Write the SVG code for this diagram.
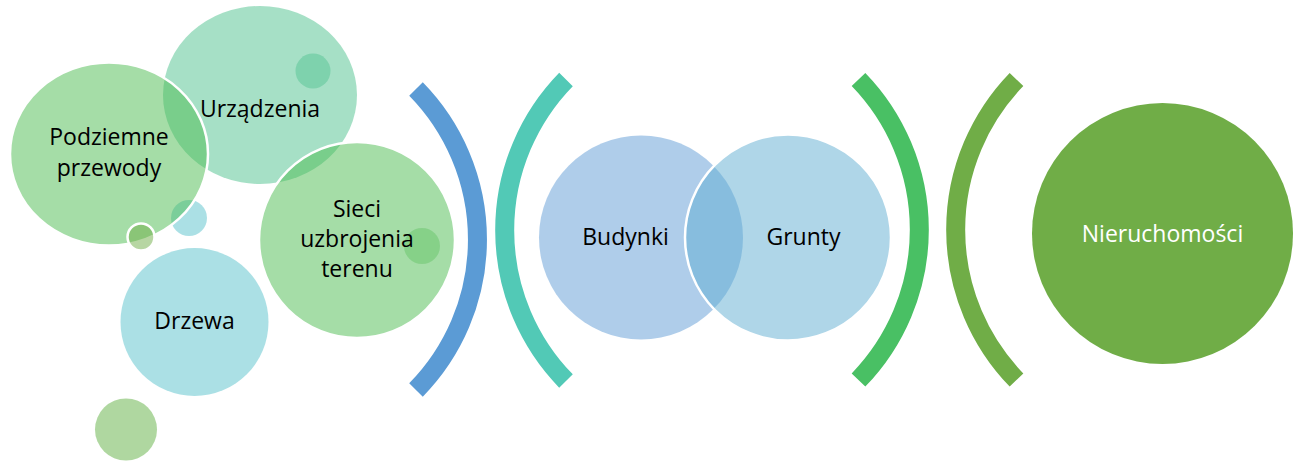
<svg xmlns="http://www.w3.org/2000/svg" width="1300" height="461" viewBox="0 0 1300 461">
  <style>
    .lbl { font-family: "Open Sans", "Liberation Sans", sans-serif; font-size: 23px; fill: #000; text-anchor: middle; }
    .lbl-w { fill: #fff; }
    .bubble { stroke: #fff; stroke-width: 2.5; }
    .green { fill: #4CBB50; fill-opacity: 0.5; }
    .mint { fill: #4DC18D; fill-opacity: 0.5; }
    .cyan { fill: #57C1CB; fill-opacity: 0.5; }
    .olive { fill: #70AD47; fill-opacity: 0.5; }
    .bracket { fill: none; stroke-width: 19; stroke-linecap: butt; }
  </style>

  <rect width="1300" height="461" fill="#fff"/>

  <!-- Bubble cluster on the left -->
  <g id="node-urzadzenia">
    <ellipse cx="260" cy="95" rx="97" ry="89" class="mint"/>
    <circle cx="313" cy="71" r="17.5" fill="#4DC18D" fill-opacity="0.45"/>
    <text x="260" y="117" class="lbl">Urządzenia</text>
  </g>

  <g id="node-sieci">
    <circle cx="357" cy="240" r="98" class="green bubble"/>
    <circle cx="422" cy="246" r="18" fill="#4CBB50" fill-opacity="0.35"/>
    <text x="357" y="217" class="lbl">Sieci</text>
    <text x="357" y="247" class="lbl">uzbrojenia</text>
    <text x="357" y="277" class="lbl">terenu</text>
  </g>

  <g id="dot-cyan">
    <circle cx="189" cy="218" r="18" class="cyan"/>
  </g>

  <g id="node-podziemne">
    <ellipse cx="109" cy="154" rx="99" ry="91.5" class="green bubble"/>
    <text x="109" y="144.5" class="lbl">Podziemne</text>
    <text x="109" y="175.5" class="lbl">przewody</text>
  </g>

  <g id="dot-olive">
    <circle cx="141" cy="237" r="13.5" class="olive bubble"/>
  </g>

  <g id="node-drzewa">
    <circle cx="194.5" cy="322" r="74" class="cyan"/>
    <text x="194.5" y="329" class="lbl">Drzewa</text>
  </g>

  <g id="dot-bottom">
    <circle cx="126" cy="429.5" r="31" fill="#5FB042" fill-opacity="0.5"/>
  </g>

  <!-- Middle pair -->
  <g id="node-budynki">
    <circle cx="641" cy="237.5" r="102" fill="#5F9BD5" fill-opacity="0.5"/>
    <text x="625.5" y="245" class="lbl">Budynki</text>
  </g>

  <g id="node-grunty">
    <circle cx="788" cy="237.5" r="103" fill="#5FADD1" fill-opacity="0.5" class="bubble"/>
    <text x="803.5" y="245" class="lbl">Grunty</text>
  </g>

  <!-- Result -->
  <g id="node-nieruchomosci">
    <circle cx="1162.5" cy="233.5" r="130.5" fill="#70AD47"/>
    <text x="1162.5" y="242" class="lbl lbl-w">Nieruchomości</text>
  </g>

  <!-- Bracket arcs between the stages -->
  <g id="connectors">
    <path d="M416,89 A215,215 0 0 1 416,390" class="bracket" stroke="#5B9BD5"/>
    <path d="M566,79.5 A216,216 0 0 0 566,381" class="bracket" stroke="#52C9B6"/>
    <path d="M858.5,79.5 A216,216 0 0 1 858.5,380" class="bracket" stroke="#49C064"/>
    <path d="M1016.5,79.5 A216,216 0 0 0 1016.5,380" class="bracket" stroke="#70AD47"/>
  </g>
</svg>
